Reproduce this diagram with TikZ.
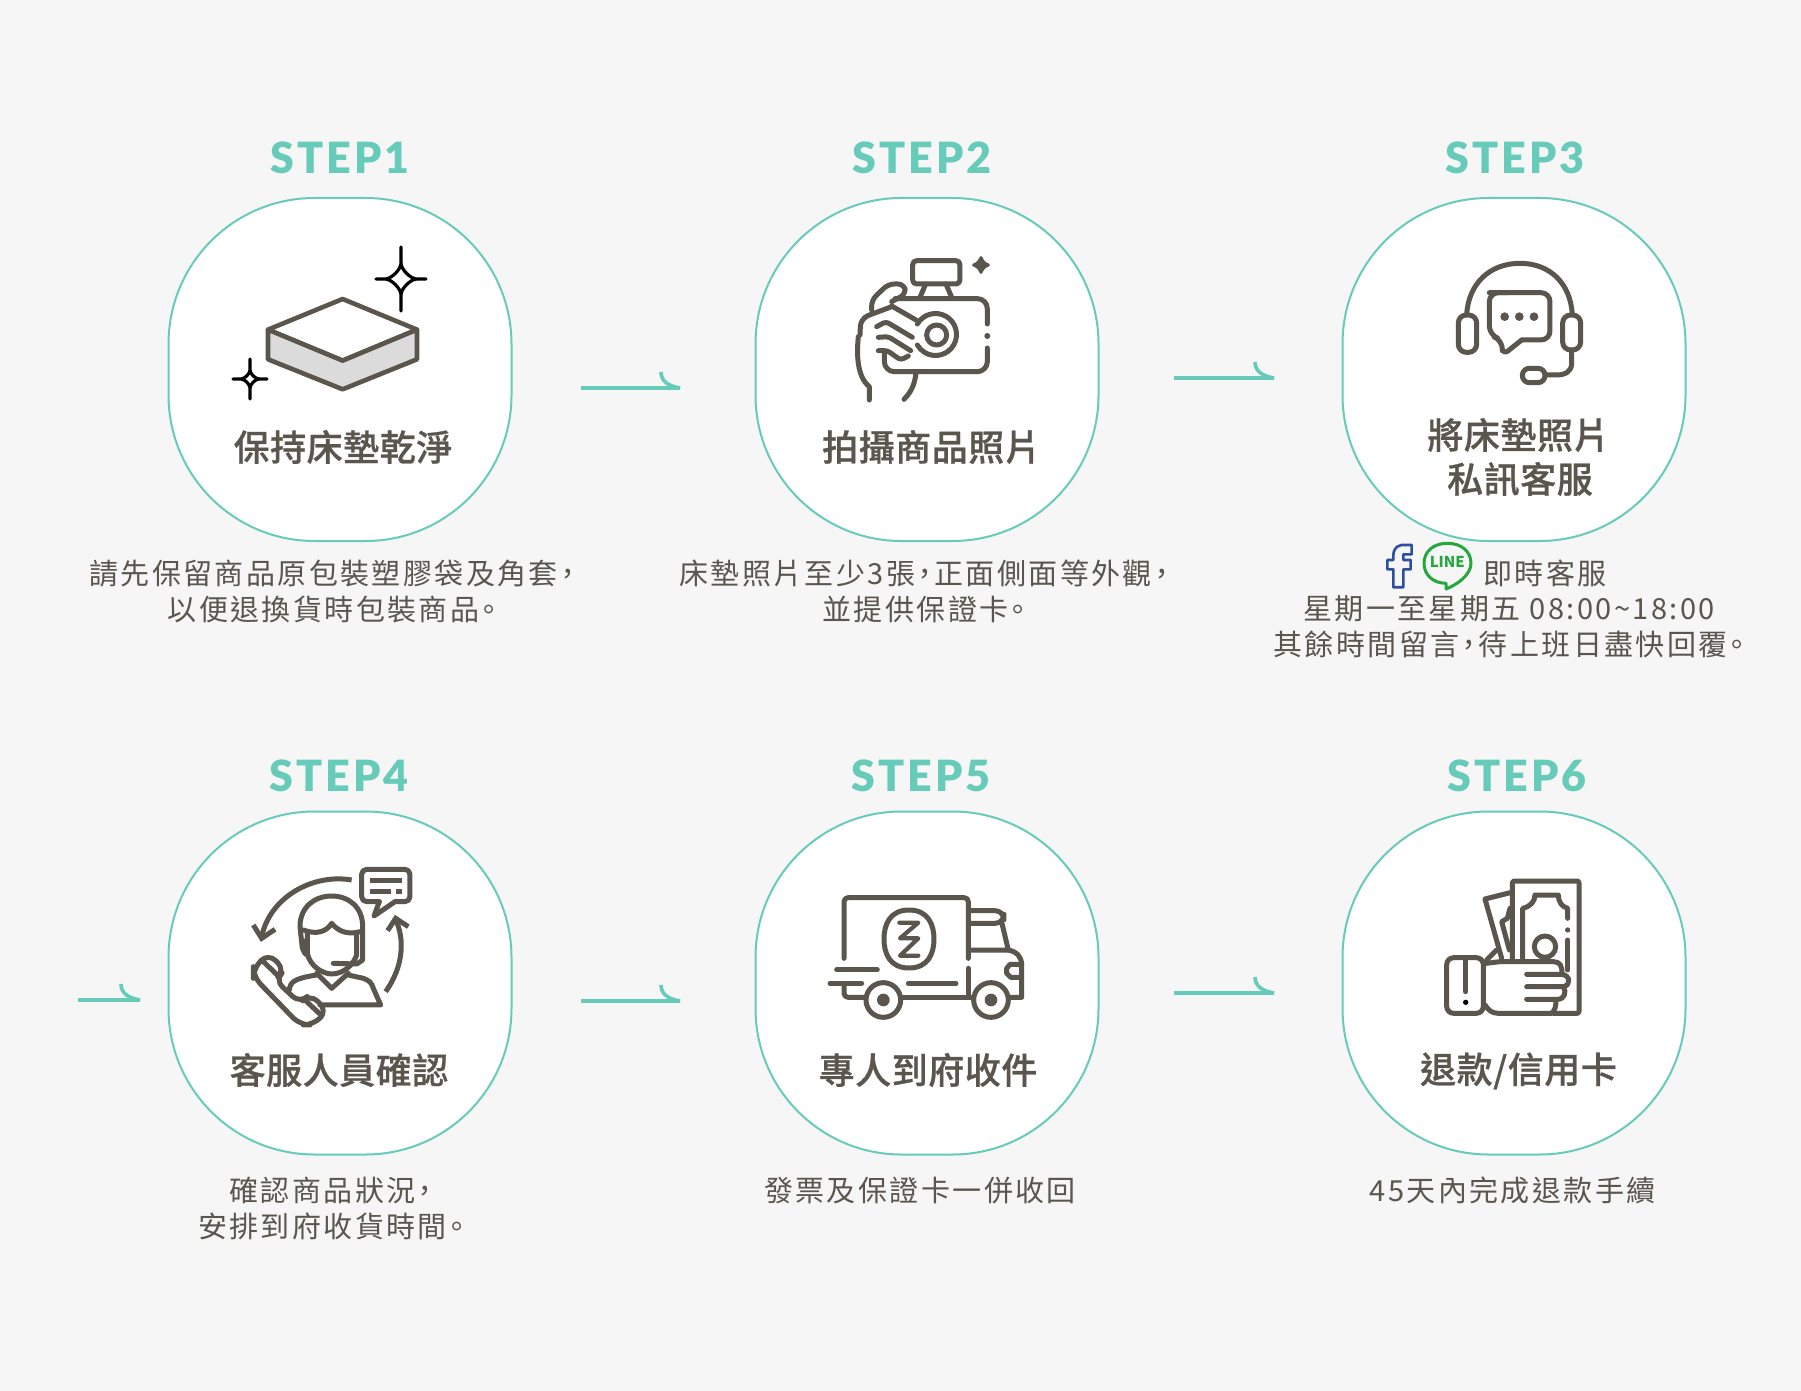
\documentclass[tikz,border=0pt]{standalone}
\usepackage{fontspec}
\setmainfont{Noto Sans CJK TC}
\newfontfamily\stepfont[LetterSpace=7]{Lato Black}
\newfontfamily\titlefont[LetterSpace=1.5,RawFeature=+palt,FakeBold=0.7]{Noto Sans CJK TC Medium}
\newfontfamily\notefont[LetterSpace=8.3,RawFeature=+palt]{Noto Sans CJK TC}
\definecolor{teal}{HTML}{66CBB9}
\definecolor{ink}{HTML}{5A554D}
\definecolor{paper}{HTML}{F6F6F6}
\definecolor{fbBlue}{HTML}{2B4FA0}
\definecolor{lineGreen}{HTML}{22A83C}
\tikzstyle{box}=[rectangle, draw=teal, fill=white, line width=2pt, rounded corners=146pt, minimum width=343pt, minimum height=343pt, inner sep=0pt]
\tikzstyle{stepLabel}=[text=teal, font=\stepfont\fontsize{43}{43}\selectfont]
\tikzstyle{boxTitle}=[text=ink, font=\titlefont\fontsize{36}{36}\selectfont, inner sep=0pt]
\tikzstyle{note}=[text=ink, font=\notefont\fontsize{29}{36}\selectfont, align=center, inner sep=0pt]
\tikzstyle{flow}=[draw=teal, line width=3.6pt, line join=bevel]
\tikzstyle{ico}=[draw=ink, line width=5pt, line cap=round, line join=round]
\tikzstyle{spark}=[draw=black, line width=3.2pt, line cap=round]
\tikzstyle{zoomed}=[shift={(#1)}, x=.3333pt, y=-.3333pt]
\newcommand{\sparkle}[5]{\draw[spark, shift={(#1,#2)}] (0,-#3) -- (0,-#5) .. controls (0,-#5*.6) and (-#5*.6,0) .. (-#5,0) -- (-#4,0) (-#5,0) .. controls (-#5*.6,0) and (0,#5*.6) .. (0,#5) -- (0,#3) (0,#5) .. controls (0,#5*.6) and (#5*.6,0) .. (#5,0) -- (#4,0) (#5,0) .. controls (#5*.6,0) and (0,-#5*.6) .. (0,-#5);}
\begin{document}
\begin{tikzpicture}[x=1pt, y=-1pt]
	\fill[paper] (0,0) rectangle (1801,1391);
	\useasboundingbox (0,0) rectangle (1801,1391);

	\draw (340,369.5) node[box] (box1) {};
	\draw (927,369.5) node[box] (box2) {};
	\draw (1514,369.5) node[box] (box3) {};
	\draw (340,983) node[box] (box4) {};
	\draw (927,983) node[box] (box5) {};
	\draw (1514,983) node[box] (box6) {};

	\draw (340,158) node[stepLabel] (step1) {STEP1};
	\draw (922,158) node[stepLabel] (step2) {STEP2};
	\draw (1515,158) node[stepLabel] (step3) {STEP3};
	\draw (339,776) node[stepLabel] (step4) {STEP4};
	\draw (921,776) node[stepLabel] (step5) {STEP5};
	\draw (1517,776) node[stepLabel] (step6) {STEP6};

	\draw (343,447) node[boxTitle] (title1) {保持床墊乾淨};
	\draw (931.5,447) node[boxTitle] (title2) {拍攝商品照片};
	\draw (1518.5,435) node[boxTitle] (title3a) {將床墊照片};
	\draw (1520,479) node[boxTitle] (title3b) {私訊客服};
	\draw (339,1070) node[boxTitle] (title4) {客服人員確認};
	\draw (928,1070) node[boxTitle] (title5) {專人到府收件};
	\draw (1518.5,1071) node[boxTitle] (title6) {退款/信用卡};

	\draw (332,591) node[note] (note1) {請先保留商品原包裝塑膠袋及角套，\\以便退換貨時包裝商品。};
	\draw (924,591) node[note] (note2) {床墊照片至少3張，正面側面等外觀，\\並提供保證卡。};
	\draw (1545,573) node[note] (note3a) {即時客服};
	\draw (1509,627) node[note] (note3b) {星期一至星期五 08:00\char`\~18:00\\其餘時間留言，待上班日盡快回覆。};
	\draw (331,1208) node[note] (note4) {確認商品狀況，\\安排到府收貨時間。};
	\draw (920,1190) node[note] (note5) {發票及保證卡一併收回};
	\draw (1512.5,1190) node[note] (note6) {45天內完成退款手續};

	\coordinate (a1s) at (581,388); \coordinate (a1e) at (680,388);
	\coordinate (a2s) at (1174,378); \coordinate (a2e) at (1274,378);
	\coordinate (a3s) at (78,1000); \coordinate (a3e) at (140,1000);
	\coordinate (a4s) at (581,1001); \coordinate (a4e) at (680,1001);
	\coordinate (a5s) at (1174,993); \coordinate (a5e) at (1274,993);
	\foreach \a in {a1,a2,a3,a4,a5} {
		\draw[flow] (\a s) -- (\a e) .. controls +(-12,-2) and +(0,9) .. +(-19,-16);
	}

	% step 1
	\begin{scope}[zoomed={150,120}]
		\draw[ico, line width=4.6pt, fill=white] (578,537) -- (801,629) -- (578,722) -- (354,629) -- cycle;
		\draw[ico, line width=4.6pt, fill=black!14] (354,629) -- (578,722) -- (801,629) -- (801,718) -- (578,808) -- (354,718) -- cycle;
	\end{scope}
	\sparkle{401}{279}{32}{25}{16}
	\sparkle{250}{379}{20}{17}{9}

	% step 2
	\begin{scope}[zoomed={780,220}]
		\draw[ico, rounded corners=4pt] (398,122) rectangle (540,192);
		\draw[ico] (420,232) -- (437,192) (515,232) -- (498,192);
		\draw[ico, rounded corners=10pt] (345,236) -- (622,236) -- (622,312);
		\draw[ico, rounded corners=10pt] (622,384) -- (622,455) -- (313,455) -- (313,402);
		\fill[ink] (622,348) circle[radius=9];
		\draw[ico] (470,345) circle[radius=30];
		\draw[ico] (412,312) arc[start angle=210, end angle=510, radius=63];
		\draw[ico, rounded corners=6pt] (275,270) -- (275,240) -- (325,192) -- (372,192) -- (378,222) -- (335,245);
		\draw[ico] (335,258) -- (408,300);
		\draw[ico, rounded corners=8pt] (330,262) -- (242,295) -- (240,345);
		\draw[ico] (235,350) .. controls (230,400) and (230,470) .. (268,500) -- (268,540);
		\draw[ico, rounded corners=3pt] (290,320) -- (318,305) -- (397,352);
		\draw[ico, rounded corners=3pt] (295,352) -- (325,350) -- (392,392);
		\draw[ico, rounded corners=3pt] (295,392) -- (322,392) -- (362,420) -- (385,408);
		\draw[ico] (408,458) .. controls (405,490) and (395,515) .. (372,538);
		\filldraw[ink, line width=3pt, line join=round] (603,113) .. controls (608,125) and (613,130) .. (625,135) .. controls (613,140) and (608,145) .. (603,157) .. controls (598,145) and (593,140) .. (581,135) .. controls (593,130) and (598,125) .. (603,113) -- cycle;
	\end{scope}

	% step 3
	\begin{scope}[zoomed={1340,220}]
		\draw[ico] (380,285) .. controls (385,190) and (450,130) .. (540,130) .. controls (630,130) and (692,190) .. (697,285);
		\draw[ico, rounded corners=8pt] (355,285) rectangle (410,397);
		\draw[ico, rounded corners=8pt] (668,285) rectangle (722,390);
		\draw[ico] (695,390) -- (695,430) .. controls (695,455) and (675,465) .. (650,465) -- (618,465);
		\draw[ico, rounded corners=7pt] (547,445) rectangle (615,488);
		\draw[ico, rounded corners=9pt] (448,218) -- (630,218) -- (630,360) -- (545,360);
		\draw[ico, rounded corners=3pt] (545,360) -- (495,400) -- (487,390);
		\draw[ico, rounded corners=9pt] (487,392) -- (487,360) -- (448,345) -- (448,218) -- (500,218);
		\foreach \d in {494,538,582} {
			\fill[ink] (\d,290) circle[radius=13];
		}
		\draw[draw=fbBlue, line width=2.6pt, line join=round] (215,975) -- (185,975) .. controls (165,978) and (160,995) .. (160,1005) -- (160,1020) -- (142,1020) -- (142,1048) -- (160,1048) -- (160,1102) -- (190,1102) -- (190,1048) -- (212,1048) -- (212,1020) -- (190,1020) -- (190,1003) -- (215,1003) -- cycle;
		\draw[draw=lineGreen, line width=3pt, line join=round] (322,970) .. controls (365,970) and (393,995) .. (393,1030) .. controls (393,1065) and (350,1095) .. (318,1107) -- (318,1090) .. controls (280,1090) and (252,1065) .. (252,1030) .. controls (252,995) and (280,970) .. (322,970) -- cycle;
		\draw (322,1027) node[inner sep=0pt, text=lineGreen, font=\bfseries\fontsize{15}{15}\selectfont] (lineLogo) {LINE};
	\end{scope}

	% step 4
	\begin{scope}[zoomed={220,840}]
		\draw[ico, rounded corners=5pt] (525,185) -- (570,185) -- (570,88) -- (425,88) -- (425,185) -- (478,185);
		\draw[ico] (478,185) -- (462,228) -- (525,185);
		\draw[ink, line width=5pt] (450,121) -- (545,121) (450,153) -- (512,153) (528,153) -- (545,153);
		\draw[ico, line cap=butt] (395,120) .. controls (280,100) and (150,170) .. (125,290);
		\draw[ico, line cap=butt, line join=miter] (100,255) -- (125,295) -- (165,268);
		\draw[ico, line cap=butt] (497,455) .. controls (550,380) and (555,300) .. (527,238);
		\draw[ico, line cap=butt, line join=miter] (503,272) -- (527,235) -- (565,260);
		\draw[ico] (247,325) -- (240,260) .. controls (240,200) and (285,168) .. (335,168) .. controls (385,168) and (428,200) .. (428,260) -- (428,360) -- (410,372) -- (340,370);
		\draw[ico] (250,270) .. controls (290,285) and (320,275) .. (335,250) .. controls (355,275) and (385,285) .. (420,275);
		\draw[ico] (262,280) -- (262,340) .. controls (270,380) and (310,402) .. (335,402) .. controls (370,402) and (400,375) .. (410,345) -- (410,280);
		\draw[ico] (262,300) .. controls (245,305) and (245,340) .. (262,345);
		\draw[ico] (290,400) -- (335,445) -- (385,400);
		\draw[ico] (208,450) .. controls (210,425) and (225,415) .. (290,405);
		\draw[ico] (385,405) -- (430,415) .. controls (450,422) and (455,430) .. (460,445) -- (482,495) -- (300,495);
		\draw[ico, rounded corners=10pt] (145,340) -- (195,390) -- (165,420) -- (240,490) -- (270,462) -- (322,512) -- (280,555) -- (240,555) -- (100,410) -- (100,385) -- cycle;
		\draw[ico] (125,360) -- (175,408) (255,480) -- (305,527);
	\end{scope}

	% step 5
	\begin{scope}[zoomed={800,870}]
		\draw[ico, rounded corners=4pt] (132,265) -- (132,83) -- (505,83) -- (505,265);
		\draw[ico] (505,295) -- (505,380);
		\draw[ico, rounded corners=9pt] (505,122) -- (612,122) -- (612,160) -- (505,160);
		\draw[ico] (606,160) -- (625,240) -- (505,240);
		\draw[ico] (625,240) .. controls (650,245) and (665,260) .. (665,285) -- (665,382) -- (628,382);
		\draw[ico] (518,382) -- (305,382);
		\draw[ico, rounded corners=4pt] (195,382) -- (132,382) -- (132,345);
		\draw[ico] (250,390) circle[radius=52] (573,390) circle[radius=52];
		\fill[ink] (250,390) circle[radius=19] (573,390) circle[radius=19];
		\draw[ico] (110,300) -- (232,300) (90,340) -- (185,340) (325,340) -- (468,340);
		\draw[ico, line join=round] (665,283) -- (630,283) -- (620,295) -- (620,310) -- (632,322) -- (665,322);
		\draw[ico] (327,120) .. controls (385,120) and (402,165) .. (402,207) .. controls (402,250) and (385,294) .. (327,294) .. controls (269,294) and (252,250) .. (252,207) .. controls (252,165) and (269,120) .. (327,120) -- cycle;
		\draw[ico, line width=4.2pt] (298,158) -- (355,158) -- (300,205) -- (355,205) -- (300,257) -- (355,257);
	\end{scope}

	% step 6
	\begin{scope}[zoomed={1420,860}]
		\draw[ico, rounded corners=2pt] (277,295) -- (277,63) -- (477,63) -- (477,460) -- (400,460);
		\draw[ico] (308,295) -- (308,145) .. controls (330,140) and (345,125) .. (345,105) -- (415,105) .. controls (415,125) and (425,140) .. (443,145) -- (443,175);
		\fill[ink] (443,210) circle[radius=8];
		\draw[ico] (443,240) -- (443,330);
		\draw[ico] (375,260) circle[radius=32];
		\draw[ico] (275,97) -- (195,117) -- (245,295);
		\draw[ico] (270,145) -- (262,175) -- (245,185) -- (268,270);
		\draw[ico] (200,300) -- (230,270);
		\draw[ico] (198,310) -- (240,305) -- (400,305) .. controls (420,305) and (428,318) .. (425,343) -- (320,343);
		\draw[ico] (425,343) .. controls (450,345) and (455,375) .. (430,380) -- (320,380);
		\draw[ico] (430,380) .. controls (440,395) and (435,418) .. (412,418) -- (320,418);
		\draw[ico] (408,420) .. controls (408,440) and (405,450) .. (395,460) -- (235,460) .. controls (215,460) and (205,450) .. (195,435);
		\draw[ico, rounded corners=7pt] (80,293) rectangle (190,460);
		\draw[ico] (137,300) -- (137,395);
		\fill[black] (137,427) circle[radius=8];
	\end{scope}
\end{tikzpicture}
\end{document}
